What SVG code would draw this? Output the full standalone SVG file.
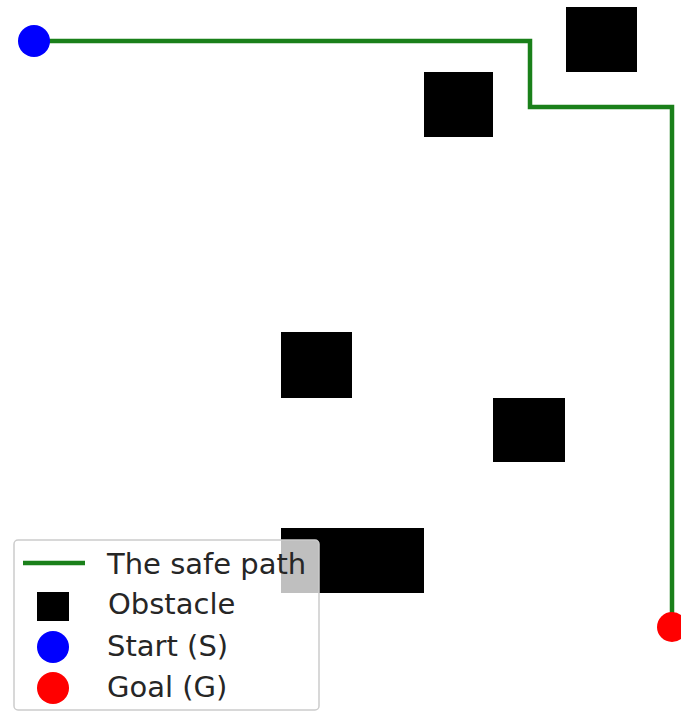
<svg xmlns="http://www.w3.org/2000/svg" width="681" height="711" viewBox="0 0 681 711">
<style>
.obs{fill:#000000}
.path{fill:none;stroke:#1a801a;stroke-width:4.5;stroke-linejoin:miter}
.lbl{font-family:"DejaVu Sans",sans-serif;font-size:29px;fill:#262626}
</style>
<rect width="681" height="711" fill="#ffffff"/>
<g id="obstacles">
<rect id="obs1" class="obs" x="566" y="7" width="71" height="65"/>
<rect id="obs2" class="obs" x="424" y="72" width="69" height="65"/>
<rect id="obs3" class="obs" x="281" y="332" width="71" height="66"/>
<rect id="obs4" class="obs" x="493" y="398" width="72" height="64"/>
<rect id="obs5" class="obs" x="281" y="528" width="143" height="65"/>
</g>
<g id="connectors">
<polyline class="path" points="34,41 530,41 530,107 672,107 672,627"/>
</g>
<g id="start"><circle cx="34" cy="41" r="16" fill="#0000ff"/></g>
<g id="goal"><circle cx="672" cy="627" r="15" fill="#ff0000"/></g>
<g id="legend">
<rect x="14" y="540" width="305" height="170" rx="4" fill="#ffffff" fill-opacity="0.75" stroke="#cccccc" stroke-width="1.5"/>
<line x1="23" y1="563" x2="85" y2="563" stroke="#1a801a" stroke-width="4.5"/>
<text class="lbl" x="107" y="574">The safe path</text>
<rect x="37" y="592" width="32" height="29" fill="#000000"/>
<text class="lbl" x="108" y="614">Obstacle</text>
<circle cx="53" cy="647" r="16" fill="#0000ff"/>
<text class="lbl" x="107" y="656">Start (S)</text>
<circle cx="53" cy="688" r="16" fill="#ff0000"/>
<text class="lbl" x="107" y="697">Goal (G)</text>
</g>
</svg>
